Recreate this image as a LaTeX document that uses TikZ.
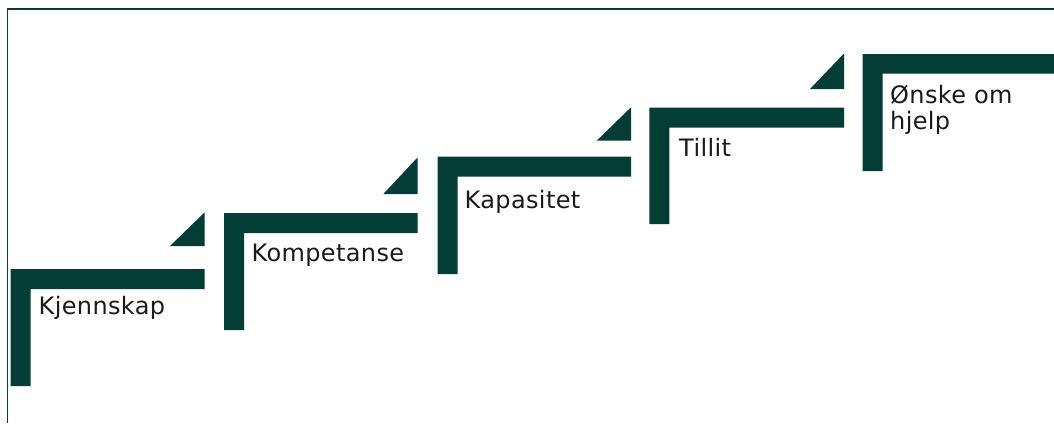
\documentclass[tikz,border=0pt]{standalone}
\usepackage{fontspec}
\setmainfont[LetterSpace=1.5]{DejaVu Sans}
\definecolor{stairgreen}{HTML}{033D35}
\definecolor{labelink}{HTML}{1A1A1A}
\begin{document}
\begin{tikzpicture}[x=1pt, y=-1pt,
  stepbar/.style={fill=stairgreen, draw=none},
  wedge/.style={fill=stairgreen, draw=none},
  frameline/.style={draw=stairgreen, line width=1.2pt},
  steplabel/.style={anchor=base west, inner sep=0pt, text=labelink,
    font=\fontsize{24}{26}\selectfont, align=left}]
  \useasboundingbox (0,0) rectangle (1054,423);
  % outer frame (top and left edges)
  \draw[frameline] (7.5,423) -- (7.5,9) -- (1054,9);

  % step 1
  \fill[stepbar] (10.5,269) -- (204.5,269) -- (204.5,289) -- (30.5,289) -- (30.5,386) -- (10.5,386) -- cycle;
  \fill[wedge] (170,246) -- (204.5,246) -- (204.5,212.5) -- cycle;
  \node[steplabel] (kjennskap) at (38.5,314.7) {Kjennskap};

  % step 2
  \fill[stepbar] (224,213) -- (417.5,213) -- (417.5,233) -- (244,233) -- (244,330) -- (224,330) -- cycle;
  \fill[wedge] (383.3,194) -- (417.5,194) -- (417.5,157.5) -- cycle;
  \node[steplabel] (kompetanse) at (251.5,261.7) {Kompetanse};

  % step 3
  \fill[stepbar] (437.5,156.7) -- (631,156.7) -- (631,176.7) -- (457.5,176.7) -- (457.5,274) -- (437.5,274) -- cycle;
  \fill[wedge] (596.7,140.7) -- (631,140.7) -- (631,107.3) -- cycle;
  \node[steplabel] (kapasitet) at (464.5,208.3) {Kapasitet};

  % step 4
  \fill[stepbar] (649.3,107.5) -- (844,107.5) -- (844,127.5) -- (669.3,127.5) -- (669.3,224) -- (649.3,224) -- cycle;
  \fill[wedge] (810,89) -- (844,89) -- (844,53.5) -- cycle;
  \node[steplabel] (tillit) at (679,156) {Tillit};

  % step 5 (two-line label: base anchor sits on the last line)
  \fill[stepbar] (862.7,54) -- (1054,54) -- (1054,73.5) -- (882.7,73.5) -- (882.7,171) -- (862.7,171) -- cycle;
  \node[steplabel] (onske) at (890,129) {Ønske om\\hjelp};
\end{tikzpicture}
\end{document}
